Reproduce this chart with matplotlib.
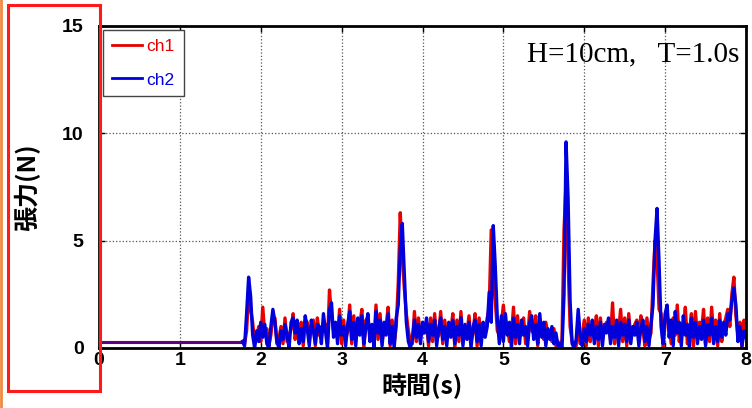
import matplotlib
matplotlib.use('Agg')
import matplotlib.pyplot as plt
import numpy as np
from matplotlib.patches import Rectangle
from matplotlib.lines import Line2D

# 波が来る前の静止時の張力
base_t = [0.0, 1.775]
base_val = [0.3, 0.3]

# 1.775 s から 0.025 s ごとの張力 (N)
t0 = 1.775
dt = 0.025

ch1 = [0.3, 0.2, 0.8, 2.5, 1.8, 1.2, 0.2, 0.5, 1.0, 0.3,
       1.9, 0.6, 0.9, 0.1, 0.6, 1.5, 1.4, 0.2, 0.4, 1.0,
       0.2, 1.4, 0.3, 0.6, 0.9, 1.6, 0.4, 1.0, 0.5, 1.2,
       0.1, 1.3, 1.2, 0.3, 1.0, 1.3, 0.1, 1.4, 0.6, 0.5,
       1.2, 1.1, 0.2, 2.7, 1.5, 0.8, 0.9, 0.5, 1.8, 0.2,
       1.3, 0.4, 0.8, 2.0, 0.2, 1.5, 0.5, 1.0, 1.1, 1.8,
       0.0, 1.3, 1.4, 0.6, 0.8, 0.3, 2.0, 0.4, 1.6, 0.3,
       0.9, 1.0, 1.9, 0.1, 1.3, 0.2, 1.0, 3.0, 6.3, 4.2,
       2.8, 1.6, 0.8, 0.3, 0.2, 1.7, 0.3, 1.4, 0.5, 0.9,
       1.0, 1.2, 0.1, 1.4, 0.3, 1.6, 0.4, 0.6, 1.7, 0.2,
       1.3, 0.4, 0.9, 0.8, 1.6, 0.0, 1.3, 0.3, 1.7, 0.4,
       0.8, 0.7, 1.5, 0.3, 0.7, 1.6, 0.1, 1.4, 0.4, 0.9,
       0.8, 1.4, 1.9, 5.5, 3.0, 2.2, 0.8, 0.6, 1.1, 2.0,
       0.9, 1.0, 0.3, 0.6, 1.9, 0.2, 1.5, 0.5, 1.0, 1.4,
       0.2, 0.5, 1.7, 0.8, 0.7, 1.5, 0.1, 1.3, 0.9, 0.4,
       1.2, 0.6, 0.7, 0.3, 0.9, 0.1, 0.3, 0.0, 0.4, 5.5,
       7.7, 4.0, 1.0, 0.3, 0.2, 0.1, 1.3, 0.2, 0.5, 1.3,
       0.1, 1.4, 0.3, 1.0, 0.8, 1.5, 0.1, 1.4, 0.5, 0.8,
       1.2, 1.1, 0.4, 2.1, 0.2, 1.0, 0.8, 1.8, 0.3, 1.4,
       0.1, 1.6, 0.5, 0.7, 1.1, 1.3, 0.3, 1.5, 0.9, 0.1,
       1.4, 0.4, 0.7, 3.0, 5.0, 4.2, 1.8, 1.6, 0.0, 1.2,
       1.5, 1.1, 0.2, 1.4, 0.6, 2.0, 0.3, 1.1, 0.9, 1.9,
       0.2, 0.7, 1.6, 0.1, 1.7, 0.5, 1.2, 0.8, 1.8, 0.2,
       1.4, 0.3, 1.9, 0.6, 1.3, 0.1, 1.6, 0.3, 1.0, 1.4,
       1.8, 1.0, 2.5, 3.3, 1.5, 0.6, 1.2, 0.0, 1.3, 0.8]

ch2 = [0.3, 0.1, 1.6, 3.3, 2.4, 0.6, 0.0, 0.8, 0.3, 1.2,
       0.5, 1.1, 0.2, 0.0, 1.0, 1.8, 1.2, 0.3, 0.0, 0.8,
       0.4, 1.1, 0.6, 0.0, 1.2, 1.4, 0.7, 1.3, 0.2, 0.9,
       0.3, 1.5, 0.9, 0.1, 1.3, 0.8, 0.2, 1.1, 1.0, 0.2,
       1.6, 0.8, 0.0, 1.8, 2.1, 0.5, 1.2, 0.2, 1.5, 0.6,
       1.0, 0.1, 1.1, 1.7, 0.4, 1.2, 0.1, 1.4, 0.6, 1.5,
       0.2, 1.0, 1.6, 0.3, 1.1, 0.0, 1.7, 0.7, 1.3, 0.1,
       1.2, 0.6, 1.6, 0.2, 1.0, 0.0, 1.4, 2.0, 4.6, 5.8,
       3.5, 1.2, 0.3, 0.0, 0.4, 1.3, 0.5, 1.1, 0.2, 1.2,
       0.7, 1.4, 0.3, 1.1, 0.6, 1.3, 0.1, 0.9, 1.4, 0.4,
       1.0, 0.1, 1.2, 0.5, 1.3, 0.2, 1.0, 0.6, 1.4, 0.1,
       1.1, 0.4, 1.2, 0.0, 1.0, 1.3, 0.3, 1.1, 0.1, 1.2,
       0.5, 1.0, 2.6, 1.2, 5.7, 3.8, 1.4, 0.2, 1.5, 0.3,
       1.6, 0.6, 1.2, 0.0, 1.4, 0.5, 1.1, 0.2, 1.3, 0.6,
       1.0, 0.1, 1.2, 1.5, 0.4, 1.1, 0.2, 1.6, 0.5, 1.2,
       0.1, 0.9, 0.4, 1.0, 0.2, 0.7, 0.1, 0.2, 0.0, 2.5,
       9.6, 7.0, 2.2, 0.2, 0.0, 0.4, 1.8, 0.6, 0.1, 0.9,
       0.3, 1.1, 0.6, 1.3, 0.2, 1.0, 0.4, 1.2, 0.1, 1.1,
       0.7, 1.4, 0.2, 1.0, 0.5, 1.3, 0.1, 1.2, 0.6, 1.1,
       0.3, 1.3, 0.2, 1.0, 0.6, 1.2, 0.1, 0.9, 1.3, 0.3,
       1.0, 0.1, 1.1, 2.0, 5.0, 6.5, 4.0, 1.0, 0.2, 1.6,
       2.0, 0.5, 1.3, 0.1, 1.7, 0.7, 1.2, 0.1, 1.5, 0.6,
       1.1, 0.0, 1.4, 0.5, 1.2, 0.2, 1.0, 0.4, 1.3, 0.1,
       1.1, 0.6, 1.4, 0.2, 1.0, 0.3, 1.3, 0.5, 1.2, 0.6,
       1.6, 1.3, 2.2, 2.8, 2.0, 0.3, 1.0, 0.1, 0.8, 0.5]

x_ticks = [0, 1, 2, 3, 4, 5, 6, 7, 8]
y_ticks = [0, 5, 10, 15]

t1 = t0 + dt * np.arange(len(ch1))
t2 = t0 + dt * np.arange(len(ch2))

cjk = ['Noto Sans CJK JP', 'DejaVu Sans']
num_font = ['Liberation Sans', 'DejaVu Sans']

fig = plt.figure(figsize=(7.52, 4.08), dpi=100)
ax = fig.add_axes([99 / 752, 60 / 408, 647 / 752, 322 / 408])

red = '#e60000'
blue = '#0000dd'
ax.plot(base_t, base_val, color=red, lw=2.2)
ax.plot(base_t, base_val, color=blue, lw=2.2, alpha=0.6)
ax.plot(t1, ch1, color=red, lw=2.4, label='ch1')
ax.plot(t2, ch2, color=blue, lw=2.4, label='ch2')

ax.set_xlim(0, 8)
ax.set_ylim(0, 15)
ax.set_xticks(x_ticks)
ax.set_yticks(y_ticks)
ax.grid(True, linestyle=':', color='#555555', lw=0.9)
ax.tick_params(direction='in', top=True, right=True, length=4, width=1)
ax.tick_params(axis='x', pad=3)
ax.tick_params(axis='y', pad=11)
for lab in ax.get_xticklabels() + ax.get_yticklabels():
    lab.set_fontfamily(num_font)
    lab.set_fontweight('bold')
    lab.set_fontsize(14)
for s in ax.spines.values():
    s.set_linewidth(2)
    s.set_color('black')

ax.set_xlabel('時間(s)', family=cjk, fontweight='bold', fontsize=18, labelpad=3)
ax.set_ylabel('張力(N)', family=cjk, fontweight='bold', fontsize=18, labelpad=16)

leg = ax.legend(loc='upper left', prop={'family': num_font, 'size': 12.5},
                handlelength=1.7, handletextpad=0.3, borderaxespad=0.25,
                fancybox=False, edgecolor='#444444', framealpha=1,
                labelspacing=1.05, borderpad=0.5)
leg.get_frame().set_linewidth(1)
for txt, line in zip(leg.get_texts(), leg.get_lines()):
    txt.set_color(line.get_color())
    line.set_linewidth(2)

ax.text(0.99, 0.891, 'H=10cm,   T=1.0s', transform=ax.transAxes, ha='right',
        va='baseline', family=['Liberation Serif', 'DejaVu Serif'], fontsize=21)

# 注目枠と左端の線
fig.patches.append(Rectangle((8 / 752, 17 / 408), 92 / 752, 386 / 408,
                             transform=fig.transFigure, fill=False,
                             edgecolor='#ff1a1a', lw=2.2))
fig.lines.append(Line2D([1 / 752, 1 / 752], [0, 1], transform=fig.transFigure,
                        color='#f08a40', lw=2))

fig.savefig('out.png', dpi=100)
